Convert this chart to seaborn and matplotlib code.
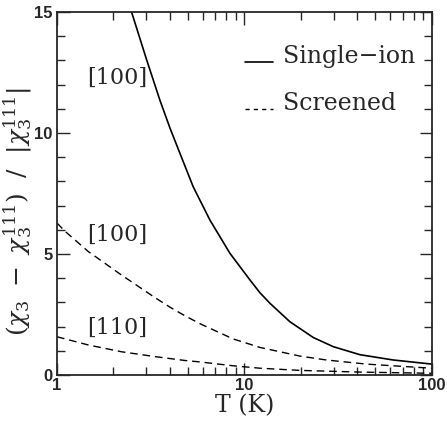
import numpy as np
import pandas as pd
import matplotlib
matplotlib.use("Agg")
import matplotlib.pyplot as plt
from matplotlib.ticker import FixedLocator, MultipleLocator, NullFormatter
import seaborn as sns

# ── Data ──────────────────────────────────────────────────────────────────────
single_T = [2.50, 3.01, 3.54, 4.01, 4.53, 5.33, 6.55, 8.37, 10.7, 12.1, 13.7,
            17.5, 23.3, 29.8, 41.3, 62.2, 100.0]
single_y = [15.0, 13.02, 11.36, 10.2, 9.16, 7.78, 6.40, 5.03, 3.93, 3.40, 2.96,
            2.20, 1.55, 1.17, 0.84, 0.62, 0.45]

scr100_T = [1.0, 1.1, 1.47, 2.21, 3.33, 4.01, 4.81, 5.79, 8.71, 12.1, 19.8,
            27.4, 44.8, 62.2, 100.0]
scr100_y = [6.28, 5.95, 5.10, 4.13, 3.20, 2.80, 2.45, 2.12, 1.49, 1.14, 0.78,
            0.62, 0.45, 0.38, 0.28]

scr110_T = [1.0, 1.47, 2.21, 3.33, 4.81, 5.79, 8.71, 12.1, 19.8, 41.3, 100.0]
scr110_y = [1.58, 1.24, 0.96, 0.76, 0.60, 0.54, 0.38, 0.28, 0.19, 0.12, 0.07]

legend_labels = ["Single\u2212ion", "Screened"]
curve_labels = ["[100]", "[100]", "[110]"]
curve_label_y = [12.3, 5.8, 1.95]

sns.set_style("ticks")
plt.rcParams["font.family"] = ["DejaVu Serif"]
plt.rcParams["mathtext.fontset"] = "dejavuserif"

fig = plt.figure(figsize=(4.47, 4.23), dpi=100)
ax = fig.add_axes([0.1275, 0.1135, 0.8385, 0.858])

dash = (0, (5.5, 3.5))
sns.lineplot(x=single_T, y=single_y, ax=ax, color="black", lw=1.2, sort=False)
sns.lineplot(x=scr100_T, y=scr100_y, ax=ax, color="black", lw=1.0, linestyle=dash, sort=False)
sns.lineplot(x=scr110_T, y=scr110_y, ax=ax, color="black", lw=1.0, linestyle=dash, sort=False)

ax.set_xscale("log")
ax.set_xlim(1, 100)
ax.set_ylim(0, 15)

ax.xaxis.set_major_locator(FixedLocator([1, 10, 100]))
ax.xaxis.set_minor_locator(FixedLocator([m * d for d in (1, 10) for m in range(2, 10)]))
ax.xaxis.set_minor_formatter(NullFormatter())
ax.set_xticklabels(["1", "10", "100"])
ax.yaxis.set_major_locator(MultipleLocator(5))
ax.yaxis.set_minor_locator(MultipleLocator(1))

ax.tick_params(which="both", direction="in", top=True, right=True, width=1.0)
ax.tick_params(which="major", length=9)
ax.tick_params(which="minor", length=5.5)
ax.tick_params(axis="x", pad=2)
ax.tick_params(axis="y", pad=3)
for lab in ax.get_xticklabels() + ax.get_yticklabels():
    lab.set_family("Liberation Sans")
    lab.set_fontweight("bold")
    lab.set_fontsize(12)
for s in ax.spines.values():
    s.set_linewidth(1.3)

ax.set_xlabel("T (K)", fontsize=17, labelpad=1)
ax.set_ylabel(r"$(\chi_3\ -\ \chi_3^{111})\ \ /\ \ |\chi_3^{111}|$", fontsize=18)
ax.yaxis.set_label_coords(-0.062, 0.45)

# curve annotations
for txt, yv in zip(curve_labels, curve_label_y):
    ax.text(1.44, yv, txt, fontsize=16, va="center", ha="left")

# legend drawn as keys + text
ax.plot([10.06, 14.2], [12.93, 12.93], color="black", lw=1.2)
ax.text(16.0, 12.9, legend_labels[0], fontsize=17, va="baseline", ha="left")
ax.plot([10.06, 14.2], [11.0, 11.0], color="black", lw=1.0, linestyle=(0, (3, 3)))
ax.text(16.0, 10.95, legend_labels[1], fontsize=17, va="baseline", ha="left")

fig.savefig("out.png", dpi=100)
